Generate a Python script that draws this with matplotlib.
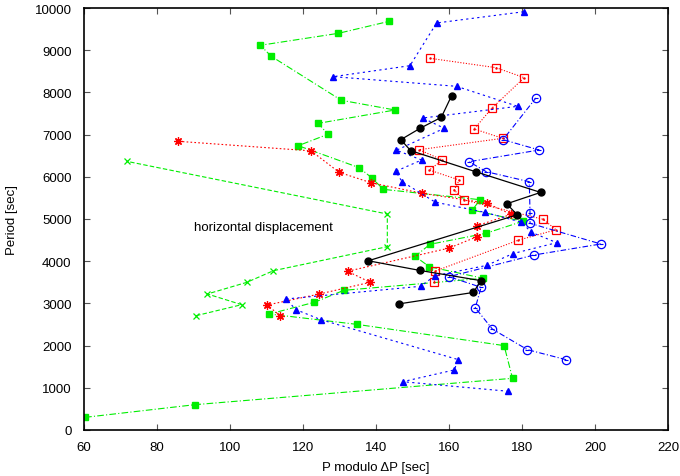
import numpy as np
import matplotlib.pyplot as plt

plt.rcParams['font.family'] = ['Liberation Sans', 'DejaVu Sans']

# green filled squares
sq_g_x = [60.3, 90.4, 177.4, 175.1, 134.7, 110.8, 123.1, 131.2, 169.4, 154.6, 150.7, 154.8,
          170.1, 180.2, 166.4, 168.5, 142.0, 139.0, 135.4, 118.7, 126.8, 124.2, 145.2, 130.5,
          111.3, 108.3, 129.7, 143.6]
sq_g_y = [300, 600, 1225, 2000, 2504, 2749, 3026, 3310, 3594, 3870, 4116, 4400,
          4661, 4945, 5213, 5457, 5703, 5964, 6216, 6737, 7007, 7267, 7583, 7813,
          8856, 9116, 9400, 9684]

# green crosses
x_g_x = [90.7, 103.2, 93.8, 104.6, 111.9, 143.1, 143.1, 71.7]
x_g_y = [2709, 2970, 3223, 3499, 3775, 4344, 5118, 6367]

# red asterisks
st_r_x = [113.7, 110.2, 124.5, 138.4, 132.2, 160.0, 167.7, 167.6, 177.0, 170.4, 152.7,
          138.6, 129.9, 122.2, 85.8]
st_r_y = [2709, 2962, 3223, 3500, 3761, 4310, 4581, 4838, 5110, 5375, 5608,
          5860, 6106, 6615, 6841]

# red open squares
sq_r_x = [156.0, 156.2, 179.0, 189.3, 185.8, 164.2, 161.4, 162.8, 154.6, 158.2, 151.8,
          174.7, 166.9, 171.7, 180.6, 172.9, 154.8]
sq_r_y = [3514, 3765, 4498, 4746, 4993, 5450, 5687, 5924, 6161, 6398, 6642,
          6912, 7133, 7622, 8349, 8586, 8808]

# blue triangles
tr_b_x = [176.3, 147.3, 161.4, 162.6, 124.9, 118.1, 115.3, 152.2, 156.2, 170.3, 177.5,
          189.5, 182.6, 179.8, 169.8, 156.2, 147.1, 145.4, 152.5, 145.6, 158.7, 152.8,
          178.8, 162.1, 128.3, 149.3, 156.6, 180.6]
tr_b_y = [917, 1145, 1422, 1666, 2614, 2851, 3104, 3405, 3657, 3900, 4180,
          4439, 4684, 4925, 5158, 5400, 5888, 6130, 6398, 6630, 7149, 7393,
          7670, 8144, 8373, 8633, 9645, 9913]

# blue open circles
ci_b_x = [192.1, 181.5, 171.9, 167.2, 168.8, 160.0, 183.3, 201.6, 182.2, 182.2, 182.0,
          170.2, 165.5, 184.7, 174.8, 183.8]
ci_b_y = [1666, 1903, 2390, 2895, 3381, 3633, 4147, 4408, 4898, 5138, 5884,
          6121, 6358, 6635, 6880, 7867]

# black filled circles
ci_k_x = [146.4, 166.7, 168.7, 152.1, 137.9, 178.7, 175.8, 185.1, 167.3, 149.5, 146.8,
          152.1, 157.9, 160.7]
ci_k_y = [2990, 3260, 3540, 3780, 4010, 5100, 5360, 5630, 6120, 6620, 6880,
          7150, 7410, 7920]

fig = plt.figure(figsize=(6.8, 4.77), dpi=100)
ax = fig.add_axes([84 / 680, 1 - 431 / 477, (668 - 84) / 680, (431 - 9) / 477])

green = '#00ee00'
lw = 0.8
ax.plot(sq_g_x, sq_g_y, color=green, ls=(0, (6, 2, 1, 2)), lw=lw,
        marker='s', ms=5, mec=green, mfc=green)
ax.plot(x_g_x, x_g_y, color=green, ls=(0, (4, 2)), lw=lw,
        marker='x', ms=5, mew=0.9)
ax.plot(st_r_x, st_r_y, color='red', ls=(0, (1.5, 2)), lw=lw,
        marker=(8, 2, 0), ms=6, mew=0.9)
ax.plot(sq_r_x, sq_r_y, color='red', ls=(0, (1, 1.5)), lw=lw,
        marker='s', ms=5.5, mfc='none', mew=0.9)
ax.plot(sq_r_x, sq_r_y, color='red', ls='none', marker='.', ms=1.5)
ax.plot(tr_b_x, tr_b_y, color='blue', ls=(0, (2, 3)), lw=lw,
        marker='^', ms=4.5, mec='blue', mfc='blue')
ax.plot(ci_b_x, ci_b_y, color='blue', ls=(0, (5, 2, 1, 2)), lw=lw,
        marker='o', ms=6, mfc='none', mew=0.9)
ax.plot(ci_b_x, ci_b_y, color='blue', ls='none', marker='_', ms=2.5, mew=0.8)
ax.plot(ci_k_x, ci_k_y, color='black', ls='-', lw=0.9,
        marker='o', ms=5, mfc='black', mec='black')

ax.text(90, 4810, 'horizontal displacement', fontsize=9.5, ha='left', va='center')

ax.set_xlim(60, 220)
ax.set_ylim(0, 10000)
ax.set_xticks(np.arange(60, 221, 20))
ax.set_yticks(np.arange(0, 10001, 1000))
ax.tick_params(direction='in', top=True, right=True, length=4, width=0.8,
               labelsize=9.5, color='#555555')
ax.tick_params(axis='x', pad=8)
ax.tick_params(axis='y', pad=9)
for s in ax.spines.values():
    s.set_linewidth(1.2)
ax.set_xlabel('P modulo \u0394P [sec]', fontsize=9.5, labelpad=6)
ax.set_ylabel('Period [sec]', fontsize=9.5, labelpad=12)

fig.savefig('out.png', dpi=100)
